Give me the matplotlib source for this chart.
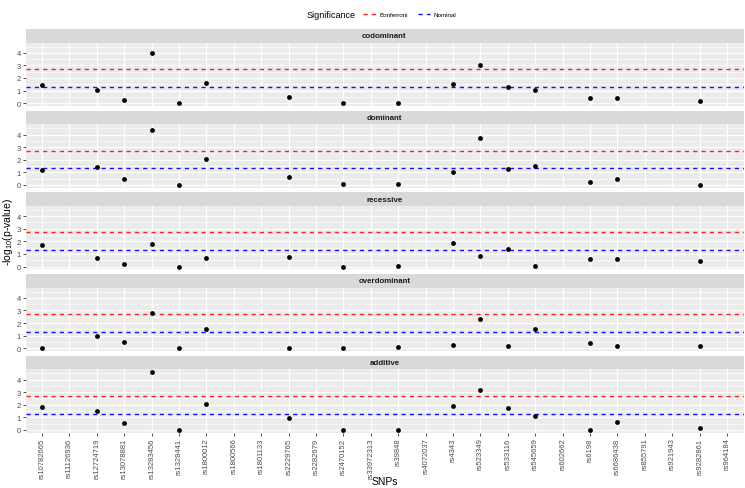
import numpy as np
import matplotlib
matplotlib.use('Agg')
from matplotlib import pyplot as plt
from matplotlib.lines import Line2D

plt.rcParams['font.family'] = ['Liberation Sans', 'DejaVu Sans']
plt.rcParams['mathtext.fontset'] = 'custom'
plt.rcParams['mathtext.rm'] = 'Liberation Sans'

snps = ['rs10782665', 'rs11126936', 'rs12724719', 'rs13078881', 'rs13283456',
        'rs1328441', 'rs1800012', 'rs1800566', 'rs1801133', 'rs2229765',
        'rs2282679', 'rs2470152', 'rs33972313', 'rs39848', 'rs4072037',
        'rs4343', 'rs523349', 'rs533116', 'rs545659', 'rs602662',
        'rs6198', 'rs6686438', 'rs855791', 'rs921943', 'rs9282861', 'rs964184']

nan = np.nan
# -log10(p) per model, nan = SNP not tested
codominant = [1.42, nan, 1.04, 0.22, 3.96, 0.00, 1.56, nan, nan, 0.52, nan, 0.00, nan, 0.00,
              nan, 1.53, 3.00, 1.31, 1.07, nan, 0.38, 0.38, nan, nan, 0.19, nan]
dominant = [1.14, nan, 1.38, 0.49, 4.32, 0.00, 2.08, nan, nan, 0.62, nan, 0.03, nan, 0.03,
            nan, 1.05, 3.73, 1.24, 1.46, nan, 0.19, 0.49, nan, nan, 0.00, nan]
recessive = [1.69, nan, 0.71, 0.19, 1.80, 0.00, 0.65, nan, nan, 0.76, nan, 0.00, nan, 0.08,
             nan, 1.90, 0.87, 1.41, 0.03, nan, 0.57, 0.62, nan, nan, 0.46, nan]
overdominant = [0.05, nan, 0.98, 0.46, 2.80, 0.00, 1.55, nan, nan, 0.03, nan, 0.03, nan, 0.08,
                nan, 0.22, 2.36, 0.14, 1.52, nan, 0.44, 0.14, nan, nan, 0.14, nan]
additive = [1.81, nan, 1.52, 0.51, 4.59, 0.00, 2.05, nan, nan, 0.91, nan, 0.03, nan, 0.03,
            nan, 1.92, 3.20, 1.76, 1.07, nan, 0.00, 0.64, nan, nan, 0.16, nan]

models = ['codominant', 'dominant', 'recessive', 'overdominant', 'additive']
values = [codominant, dominant, recessive, overdominant, additive]

bonferroni = 2.72
nominal = 1.30

W, H = 745, 489
fig = plt.figure(figsize=(W / 100, H / 100), dpi=100)

x = np.arange(1, len(snps) + 1)
ymax = np.nanmax(values)
ylim = (-0.05 * ymax, 1.05 * ymax)

left, right = 25.5, 743.5
strip_h, panel_h, period = 13.5, 63.5, 81.7
dash = (3.0, 3.0)
for i, (name, vals) in enumerate(zip(models, values)):
    top = 30 + i * period
    sax = fig.add_axes([left / W, 1 - (top + strip_h) / H, (right - left) / W, strip_h / H])
    sax.set_facecolor('#D9D9D9')
    sax.set_xticks([])
    sax.set_yticks([])
    for s in sax.spines.values():
        s.set_visible(False)
    sax.text(0.5, 0.5, name, ha='center', va='center', fontsize=5.7,
             fontweight='bold', color='#1A1A1A', transform=sax.transAxes)

    ax = fig.add_axes([left / W, 1 - (top + strip_h + panel_h) / H,
                       (right - left) / W, panel_h / H])
    ax.set_facecolor('#EBEBEB')
    for s in ax.spines.values():
        s.set_visible(False)
    ax.set_xlim(0.4, len(snps) + 0.6)
    ax.set_ylim(*ylim)
    ax.set_yticks([0, 1, 2, 3, 4])
    ax.set_yticks([0.5, 1.5, 2.5, 3.5, 4.5], minor=True)
    ax.set_xticks(x)
    ax.grid(which='major', color='white', linewidth=0.9)
    ax.grid(which='minor', axis='y', color='white', linewidth=0.45)
    ax.set_axisbelow(True)
    ax.tick_params(axis='y', which='minor', length=0)
    ax.tick_params(axis='both', which='major', length=2.2, width=0.6, color='#333333',
                   labelsize=5.5, labelcolor='#4D4D4D', pad=1.2)

    ax.axhline(bonferroni, color='#FF2020', linewidth=1.0, dashes=dash)
    ax.axhline(nominal, color='#1010FF', linewidth=1.0, dashes=dash)
    ax.scatter(x, vals, s=12, color='black', zorder=3, linewidths=0)

    if i < len(models) - 1:
        ax.tick_params(axis='x', length=0, labelbottom=False)
    else:
        ax.set_xticklabels(snps, rotation=90)

fig.text(384.5 / W, 1 - 482 / H, 'SNPs', ha='center', va='center', fontsize=7.5)
fig.text(8 / W, 1 - 232 / H, '-log$_{10}$(p-value)', ha='center', va='center',
         rotation=90, fontsize=7.5)

# legend on top
fig.text(356 / W, 1 - 15 / H, 'Significance', ha='right', va='center', fontsize=6.5)
handles = [Line2D([], [], color='#FF2020', linewidth=1.0, dashes=dash),
           Line2D([], [], color='#1010FF', linewidth=1.0, dashes=dash)]
fig.legend(handles, ['Bonferroni', 'Nominal'], loc='center left',
           bbox_to_anchor=(363 / W, 1 - 15 / H), ncol=2, frameon=False, fontsize=4.5,
           handlelength=2.0, handletextpad=0.6, columnspacing=1.6, borderpad=0,
           borderaxespad=0)

fig.savefig('out.png', dpi=100)
